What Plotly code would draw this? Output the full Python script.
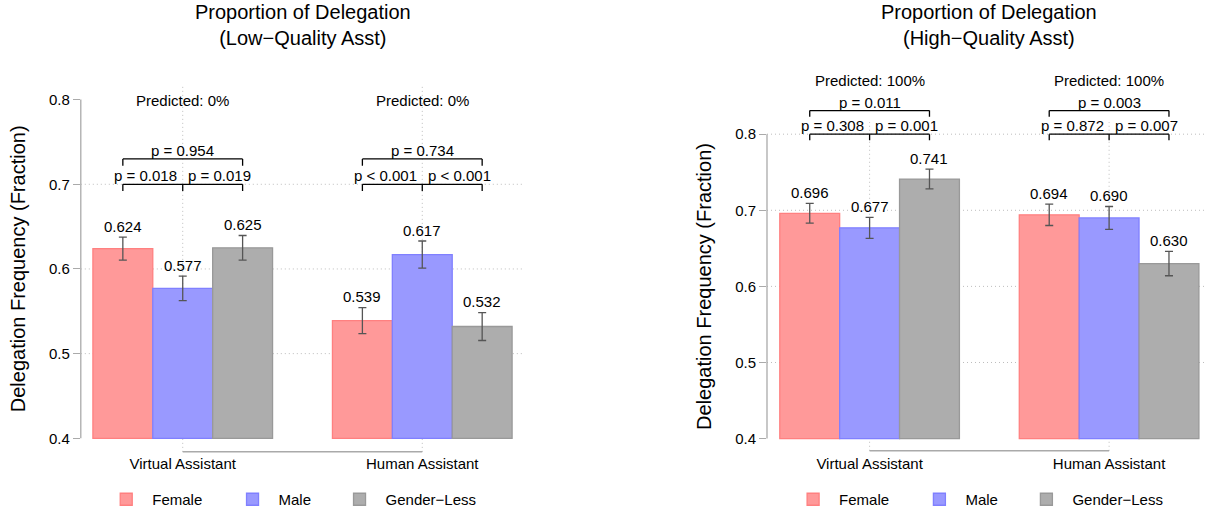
import plotly.graph_objects as go

# ---------------- data ----------------
categories = ["Virtual Assistant", "Human Assistant"]
series_names = ["Female", "Male", "Gender\u2212Less"]

low_female = [0.624, 0.539]
low_male = [0.577, 0.617]
low_genderless = [0.625, 0.532]
low_female_err = [0.0135, 0.0153]
low_male_err = [0.0145, 0.0160]
low_genderless_err = [0.0145, 0.0165]

high_female = [0.696, 0.694]
high_male = [0.677, 0.690]
high_genderless = [0.741, 0.630]
high_female_err = [0.0130, 0.0140]
high_male_err = [0.0138, 0.0150]
high_genderless_err = [0.0130, 0.0160]

low_p_female_male = ["p = 0.018", "p < 0.001"]
low_p_male_genderless = ["p = 0.019", "p < 0.001"]
low_p_female_genderless = ["p = 0.954", "p = 0.734"]
high_p_female_male = ["p = 0.308", "p = 0.872"]
high_p_male_genderless = ["p = 0.001", "p = 0.007"]
high_p_female_genderless = ["p = 0.011", "p = 0.003"]

low_predicted = ["Predicted: 0%", "Predicted: 0%"]
high_predicted = ["Predicted: 100%", "Predicted: 100%"]

y_ticks = [0.4, 0.5, 0.6, 0.7, 0.8]
low_title = ["Proportion of Delegation", "(Low\u2212Quality Asst)"]
high_title = ["Proportion of Delegation", "(High\u2212Quality Asst)"]
y_title = "Delegation Frequency (Fraction)"

# ---------------- styling / layout ----------------
W, H = 1206, 516
FONT = "Liberation Sans, Arial, Helvetica, sans-serif"
fills = ["#FF9999", "#9999FF", "#ADADAD"]
edges = ["#FF8080", "#8080FF", "#999999"]
BAR_OFFSETS = [-0.25, 0.0, 0.25]
LEGEND_BOX_OFFSETS = [-56.5, 69.8, 176.8]  # px from first group centre
GRID = dict(color="#BDBDBD", width=1, dash="1px,3px")


def fx(px):
    return px / W


def fy(py):
    return 1 - py / H


panels = [
    dict(
        vals=[low_female, low_male, low_genderless],
        errs=[low_female_err, low_male_err, low_genderless_err],
        p_fm=low_p_female_male, p_mg=low_p_male_genderless, p_fg=low_p_female_genderless,
        pred=low_predicted, title=low_title,
        xpx=(80.8, 524.2), xr=(-0.4255, 1.4255),
        ypx=(455, 66), yr=(0.38235, 0.84),
        lower=0.70, upper=0.73, pred_y=0.799,
        grid=[0.5, 0.6, 0.7],
    ),
    dict(
        vals=[high_female, high_male, high_genderless],
        errs=[high_female_err, high_male_err, high_genderless_err],
        p_fm=high_p_female_male, p_mg=high_p_male_genderless, p_fg=high_p_female_genderless,
        pred=high_predicted, title=high_title,
        xpx=(767, 1206), xr=(-0.4284, 1.4046),
        ypx=(455, 43), yr=(0.38076, 0.92003),
        lower=0.80, upper=0.831, pred_y=0.87,
        grid=[0.5, 0.6, 0.7, 0.8],
    ),
]

fig = go.Figure()
shapes = []
annotations = []
layout = {}
legend_count = 0

for pi, P in enumerate(panels):
    xa = "x" if pi == 0 else "x2"
    ya = "y" if pi == 0 else "y2"
    xkey = "xaxis" if pi == 0 else "xaxis2"
    ykey = "yaxis" if pi == 0 else "yaxis2"
    x0, x1 = P["xr"]

    def xpix(v, P=P):
        return P["xpx"][0] + (v - P["xr"][0]) / (P["xr"][1] - P["xr"][0]) * (P["xpx"][1] - P["xpx"][0])

    def ypix(v, P=P):
        return P["ypx"][0] - (v - P["yr"][0]) / (P["yr"][1] - P["yr"][0]) * (P["ypx"][0] - P["ypx"][1])

    for si in range(3):
        legend_count += 1
        leg_name = "legend" if legend_count == 1 else f"legend{legend_count}"
        fig.add_trace(go.Bar(
            x=categories,
            y=[v - 0.4 for v in P["vals"][si]],
            base=0.4,
            name=series_names[si],
            marker=dict(color=fills[si], line=dict(color=edges[si], width=1.3)),
            error_y=dict(type="data", array=P["errs"][si], color="#555555",
                         thickness=1.3, width=4),
            xaxis=xa, yaxis=ya,
            legend=leg_name,
            offsetgroup=str(si),
            hovertemplate="%{x}<br>" + series_names[si] + ": %{customdata:.3f}<extra></extra>",
            customdata=P["vals"][si],
        ))
        # one legend entry per series, placed under the panel
        box_center = xpix(0) + LEGEND_BOX_OFFSETS[si]
        layout[leg_name] = dict(
            orientation="h", x=fx(box_center - 26), xanchor="left",
            y=fy(501.7), yanchor="middle", itemwidth=42,
            font=dict(size=15, color="black", family=FONT), bgcolor="rgba(0,0,0,0)",
        )
        for ci in range(len(categories)):
            v = P["vals"][si][ci]
            e = P["errs"][si][ci]
            annotations.append(dict(
                x=ci + BAR_OFFSETS[si], y=v + e, xref=xa, yref=ya,
                text=f"{v:.3f}", showarrow=False, yanchor="middle", yshift=11,
                font=dict(size=15, color="black", family=FONT),
            ))

    layout[xkey] = dict(
        domain=[fx(P["xpx"][0]), min(1.0, fx(P["xpx"][1]))], range=list(P["xr"]),
        type="category", showgrid=False, zeroline=False, showline=False,
        ticks="", tickfont=dict(size=15, color="black", family=FONT),
        anchor=ya, fixedrange=True,
    )
    layout[ykey] = dict(
        domain=[fy(P["ypx"][0]), fy(P["ypx"][1])], range=list(P["yr"]),
        showgrid=False, zeroline=False, showline=False,
        tickvals=y_ticks, ticktext=[f"{t:.1f}" for t in y_ticks],
        ticks="outside", ticklen=7, tickwidth=1.3, tickcolor="#AAAAAA",
        tickfont=dict(size=15, color="black", family=FONT),
        anchor=xa, fixedrange=True,
    )

    # horizontal dotted grid
    for g in P["grid"]:
        shapes.append(dict(type="line", xref=xa, yref=ya, x0=x0, x1=x1, y0=g, y1=g,
                           line=GRID, layer="below"))
    # vertical dotted grid at group centres
    for ci in range(len(categories)):
        shapes.append(dict(type="line", xref=xa, yref=ya, x0=ci, x1=ci, y0=0.384, y1=0.816,
                           line=GRID, layer="below"))
    # y axis line (0.4 -> 0.8)
    shapes.append(dict(type="line", xref="paper", yref=ya,
                       x0=fx(P["xpx"][0]), x1=fx(P["xpx"][0]), y0=0.4, y1=0.8,
                       line=dict(color="#AAAAAA", width=1.3)))
    # x axis line between group centres
    shapes.append(dict(type="line", xref=xa, yref=ya, x0=0, x1=len(categories) - 1,
                       y0=0.384, y1=0.384, line=dict(color="#AAAAAA", width=1.5)))

    # significance brackets
    L, U, t = P["lower"], P["upper"], 0.008
    blk = dict(color="black", width=1.3)
    f15 = dict(size=15, color="black", family=FONT)
    for ci in range(len(categories)):
        xl, xm, xr_ = ci - 0.25, ci, ci + 0.25
        shapes += [
            dict(type="line", xref=xa, yref=ya, x0=xl, x1=xr_, y0=L, y1=L, line=blk),
            dict(type="line", xref=xa, yref=ya, x0=xl, x1=xl, y0=L, y1=L - t, line=blk),
            dict(type="line", xref=xa, yref=ya, x0=xm, x1=xm, y0=L, y1=L - t, line=blk),
            dict(type="line", xref=xa, yref=ya, x0=xr_, x1=xr_, y0=L, y1=L - t, line=blk),
            dict(type="line", xref=xa, yref=ya, x0=xl, x1=xr_, y0=U, y1=U, line=blk),
            dict(type="line", xref=xa, yref=ya, x0=xl, x1=xl, y0=U, y1=U - t, line=blk),
            dict(type="line", xref=xa, yref=ya, x0=xr_, x1=xr_, y0=U, y1=U - t, line=blk),
        ]
        annotations += [
            dict(x=xm, y=L, xref=xa, yref=ya, text=P["p_fm"][ci], showarrow=False,
                 xanchor="right", xshift=-3.5, yanchor="middle", yshift=9, font=f15),
            dict(x=xm, y=L, xref=xa, yref=ya, text=P["p_mg"][ci], showarrow=False,
                 xanchor="left", xshift=3.5, yanchor="middle", yshift=9, font=f15),
            dict(x=xm, y=U, xref=xa, yref=ya, text=P["p_fg"][ci], showarrow=False,
                 xanchor="center", yanchor="middle", yshift=8, font=f15),
            dict(x=xm, y=P["pred_y"], xref=xa, yref=ya, text=P["pred"][ci], showarrow=False,
                 xanchor="center", yanchor="middle", font=f15),
        ]

    # panel title (two lines)
    mid_px = xpix(0.5)
    annotations.append(dict(x=fx(mid_px), y=fy(25), xref="paper", yref="paper",
                            text="<br>".join(P["title"]), showarrow=False,
                            xanchor="center", yanchor="middle", align="center",
                            font=dict(size=20, color="black", family=FONT)))
    # y-axis title
    ymid = (ypix(0.384) + ypix(0.816)) / 2
    annotations.append(dict(x=fx(P["xpx"][0] - 62.5), y=fy(ymid), xref="paper", yref="paper",
                            text=y_title, showarrow=False, textangle=-90,
                            xanchor="center", yanchor="middle",
                            font=dict(size=20, color="black", family=FONT)))

fig.update_layout(
    width=W, height=H,
    margin=dict(l=0, r=0, t=0, b=0),
    paper_bgcolor="white", plot_bgcolor="white",
    barmode="group", bargap=0.25, bargroupgap=0,
    showlegend=True,
    shapes=shapes, annotations=annotations,
    font=dict(family=FONT, size=15, color="black"),
    **layout,
)

fig.write_html("out.html", config={"displayModeBar": False},
               post_script="document.body.style.margin='0';")
